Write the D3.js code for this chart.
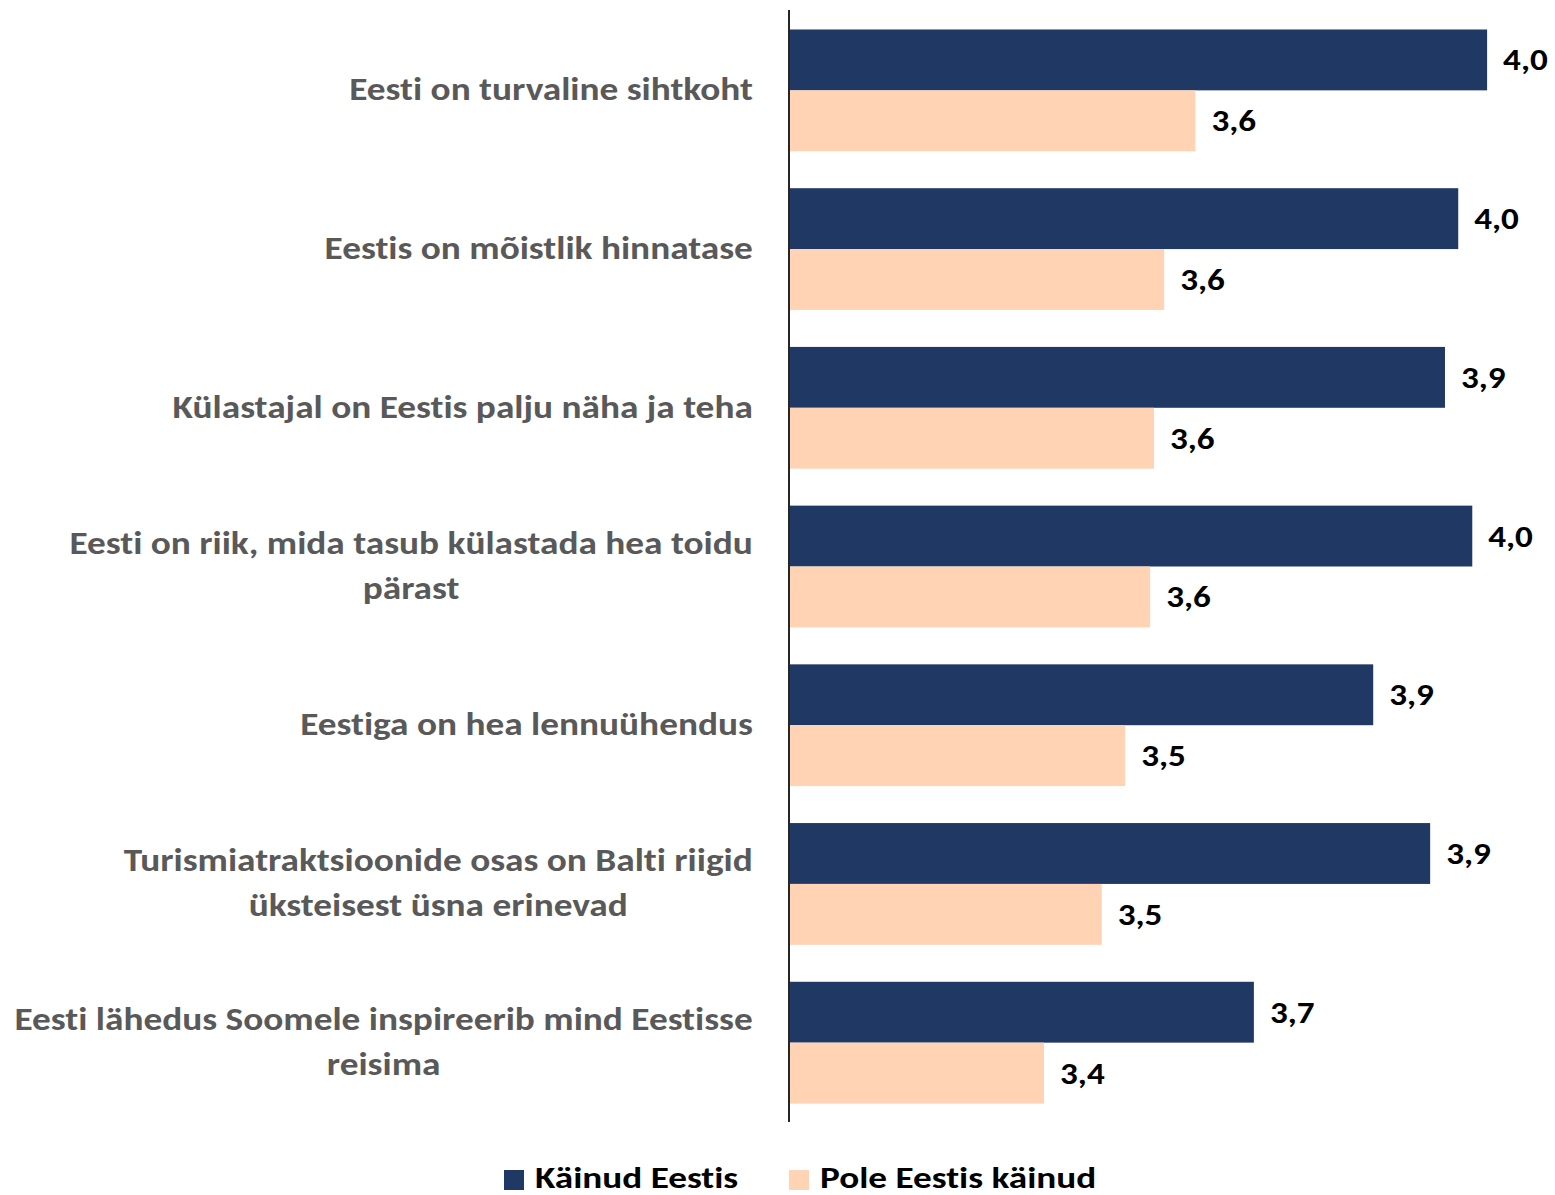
<!DOCTYPE html>
<html>
<head>
<meta charset="utf-8">
<script src="https://cdn.jsdelivr.net/npm/d3@7"></script>
<style>
  html, body { margin: 0; padding: 0; background: #ffffff; }
  svg { display: block; }
  text { font-family: Carlito, Lato, "Open Sans", sans-serif; font-weight: 700;
         font-variant-ligatures: none; font-feature-settings: "liga" 0, "clig" 0; }
</style>
</head>
<body>
<svg id="chart" width="1555" height="1195"></svg>
<script>
// ---- Data ----
const categories = [
  ["Eesti on turvaline sihtkoht"],
  ["Eestis on mõistlik hinnatase"],
  ["Külastajal on Eestis palju näha ja teha"],
  ["Eesti on riik, mida tasub külastada hea toidu", "pärast"],
  ["Eestiga on hea lennuühendus"],
  ["Turismiatraktsioonide osas on Balti riigid", "üksteisest üsna erinevad"],
  ["Eesti lähedus Soomele inspireerib mind Eestisse", "reisima"]
];
const seriesNames = ["Käinud Eestis", "Pole Eestis käinud"];
const visited = [4.000, 3.963, 3.946, 3.981, 3.854, 3.927, 3.701];
const notVisited = [3.626, 3.586, 3.573, 3.568, 3.536, 3.506, 3.432];
const seriesColors = ["#203864", "#FFD3B4"];

// ---- Layout ----
const svg = d3.select("#chart");
const axisX = 789;
const sx = 1.185; // horizontal text stretch to match the reference's wide lettering
const catKeys = categories.map(c => c.join(" "));

const x = d3.scaleLinear().domain([3.105, 4.105]).range([axisX, axisX + 780]);
const y = d3.scaleBand().domain(catKeys).range([11, 1122]).paddingInner(0.233).paddingOuter(0.1165);
const ySub = d3.scaleBand().domain(seriesNames).range([0, y.bandwidth()]);

const rows = catKeys.map((k, i) => ({ key: k, lines: categories[i], values: [visited[i], notVisited[i]] }));

const fmt = v => d3.format(".1f")(v).replace(".", ",");

const groups = svg.append("g").selectAll("g.grp")
  .data(rows).join("g").attr("class", "grp")
  .attr("transform", d => `translate(0,${y(d.key)})`);

groups.selectAll("rect")
  .data(d => d.values.map((v, j) => ({ v, s: seriesNames[j], j })))
  .join("rect")
  .attr("x", x(x.domain()[0]))
  .attr("y", d => ySub(d.s))
  .attr("width", d => x(d.v) - x(x.domain()[0]))
  .attr("height", ySub.bandwidth())
  .attr("fill", d => seriesColors[d.j]);

groups.selectAll("g.val")
  .data(d => d.values.map((v, j) => ({ v, s: seriesNames[j], j })))
  .join("g").attr("class", "val")
  .attr("transform", d => `translate(${x(d.v) + 16},${ySub(d.s) + ySub.bandwidth() / 2}) scale(1.17,1)`)
  .append("text")
  .attr("dy", "0.35em")
  .attr("font-size", 30)
  .attr("fill", "#000000")
  .text(d => fmt(d.v));

// category labels: block right-aligned at x=753, lines centred within block
const labelG = groups.append("g");
const labels = labelG.append("text")
  .attr("text-anchor", "middle")
  .attr("font-size", 31.5)
  .attr("fill", "#595959");
labels.selectAll("tspan")
  .data(d => d.lines.map((l, i) => ({ l, i, n: d.lines.length })))
  .join("tspan")
  .attr("x", 0)
  .attr("y", d => (d.i - (d.n - 1) / 2) * 45)
  .attr("dy", "0.34em")
  .text(d => d.l);
labelG.each(function() {
  const t = d3.select(this).select("text");
  let w = 0;
  t.selectAll("tspan").each(function() { w = Math.max(w, this.getComputedTextLength()); });
  d3.select(this).attr("transform", `translate(${753 - w * sx / 2},${y.bandwidth() / 2 - 1}) scale(${sx},1)`);
});

// axis line
svg.append("g")
  .attr("transform", `translate(${axisX},0)`)
  .call(d3.axisLeft(y).tickSize(0).tickFormat(""))
  .call(g => g.select(".domain").attr("stroke", "#262626").attr("stroke-width", 2).attr("d", "M0,10V1122"));

// legend
const legend = svg.append("g");
const legendX = [504, 789];
const legItems = legend.selectAll("g").data(seriesNames).join("g")
  .attr("transform", (d, i) => `translate(${legendX[i]},1170)`);
legItems.append("rect").attr("width", 20).attr("height", 20)
  .attr("fill", (d, i) => seriesColors[i]);
legItems.append("g").attr("transform", "translate(31,18) scale(1.2,1)")
  .append("text")
  .attr("font-size", 31).attr("fill", "#000000").text(d => d);
</script>
</body>
</html>
